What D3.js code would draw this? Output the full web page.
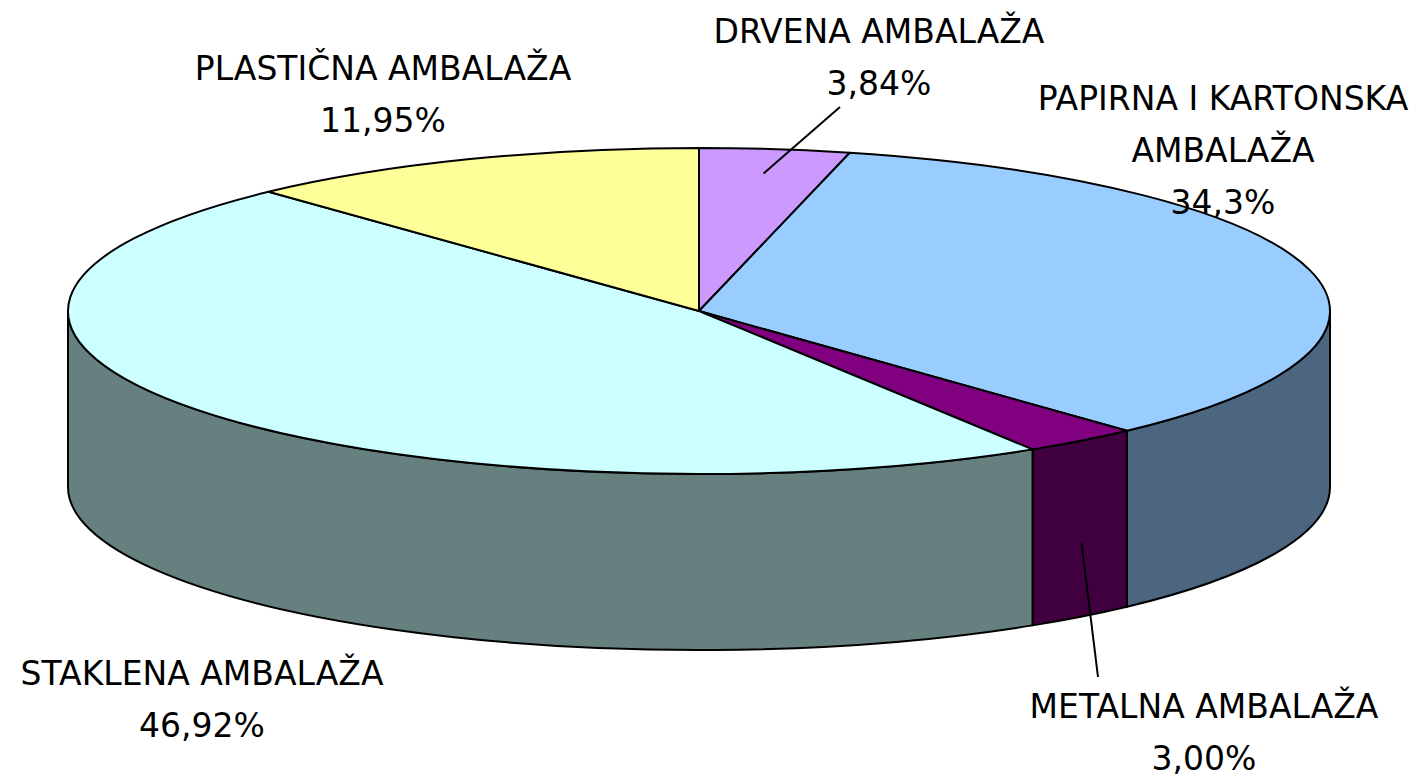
<!DOCTYPE html>
<html>
<head>
<meta charset="utf-8">
<script src="https://cdn.jsdelivr.net/npm/d3@7"></script>
<style>
  body { margin: 0; background: #fff; }
  text { font-family: "DejaVu Sans", sans-serif; font-size: 33px; fill: #000; }
</style>
</head>
<body>
<svg id="chart" width="1428" height="778"></svg>
<script>
// podaci
const categories = ['DRVENA AMBALAŽA', 'PAPIRNA I KARTONSKA AMBALAŽA', 'METALNA AMBALAŽA', 'STAKLENA AMBALAŽA', 'PLASTIČNA AMBALAŽA'];
const values = [3.84, 34.3, 3.00, 46.92, 11.95];
const valueLabels = ['3,84%', '34,3%', '3,00%', '46,92%', '11,95%'];

// boje: gornja ploha i bočna strana
const topColors = ['#cc99ff', '#99ccff', '#800080', '#ccffff', '#ffff99'];
const sideColors = ['#664c80', '#4c6680', '#400040', '#668080', '#80804c'];

// raspored
const cx = 699, cy = 311, rx = 631, ry = 163, depth = 176;
const labelLayout = [
  { lines: ['DRVENA AMBALAŽA'], x: 879, y: 43, leader: { from: [840, 107], k: 0.85 } },
  { lines: ['PAPIRNA I KARTONSKA', 'AMBALAŽA'], x: 1223, y: 110 },
  { lines: ['METALNA AMBALAŽA'], x: 1204, y: 718, leader: { from: [1098, 677], side: 0.58 } },
  { lines: ['STAKLENA AMBALAŽA'], x: 202, y: 685 },
  { lines: ['PLASTIČNA AMBALAŽA'], x: 383, y: 80 }
];
const lineHeight = 52;

const svg = d3.select('#chart');

const pie = d3.pie().sort(null).value(d => d.value).startAngle(0).endAngle(2 * Math.PI);
const arcs = pie(categories.map((c, i) => ({ name: c, value: values[i], i })));

// radius scale for the ellipse
const sx = d3.scaleLinear().domain([0, 1]).range([0, rx]);
const sy = d3.scaleLinear().domain([0, 1]).range([0, ry]);
const pt = (a, k = 1, dy = 0) => [cx + sx(k) * Math.sin(a), cy - sy(k) * Math.cos(a) + dy];

function topPath(a0, a1) {
  const p0 = pt(a0), p1 = pt(a1);
  const large = a1 - a0 > Math.PI ? 1 : 0;
  return `M${cx},${cy}L${p0}A${rx},${ry} 0 ${large} 1 ${p1}Z`;
}

function sidePath(a0, a1) {
  const p0 = pt(a0), p1 = pt(a1), q0 = pt(a0, 1, depth), q1 = pt(a1, 1, depth);
  return `M${p0}A${rx},${ry} 0 0 1 ${p1}L${q1}A${rx},${ry} 0 0 0 ${q0}Z`;
}

// bočne strane (samo prednja polovina je vidljiva)
const front = arcs.map(d => ({
  d, a0: Math.max(d.startAngle, Math.PI / 2), a1: Math.min(d.endAngle, 3 * Math.PI / 2)
})).filter(s => s.a1 > s.a0);

svg.append('g').selectAll('path')
  .data(front)
  .join('path')
  .attr('d', s => sidePath(s.a0, s.a1))
  .attr('fill', s => sideColors[s.d.data.i])
  .attr('stroke', '#000')
  .attr('stroke-width', 2)
  .attr('stroke-linejoin', 'round');

// gornje plohe
svg.append('g').selectAll('path')
  .data(arcs)
  .join('path')
  .attr('d', d => topPath(d.startAngle, d.endAngle))
  .attr('fill', d => topColors[d.data.i])
  .attr('stroke', '#000')
  .attr('stroke-width', 2)
  .attr('stroke-linejoin', 'round');

// linije do natpisa
arcs.forEach((d, i) => {
  const L = labelLayout[i].leader;
  if (!L) return;
  const mid = (d.startAngle + d.endAngle) / 2;
  const end = L.side != null ? pt(mid, 1, depth * L.side) : pt(mid, L.k);
  svg.append('line')
    .attr('x1', L.from[0]).attr('y1', L.from[1])
    .attr('x2', end[0]).attr('y2', end[1])
    .attr('stroke', '#000').attr('stroke-width', 2);
});

// natpisi
const labels = svg.append('g').selectAll('text')
  .data(arcs)
  .join('text')
  .attr('text-anchor', 'middle')
  .attr('x', (d, i) => labelLayout[i].x)
  .attr('y', (d, i) => labelLayout[i].y);

labels.each(function (d, i) {
  const t = d3.select(this);
  const lines = labelLayout[i].lines.concat(valueLabels[i]);
  lines.forEach((s, j) => {
    t.append('tspan')
      .attr('x', labelLayout[i].x)
      .attr('dy', j === 0 ? 0 : lineHeight)
      .text(s);
  });
});
</script>
</body>
</html>
